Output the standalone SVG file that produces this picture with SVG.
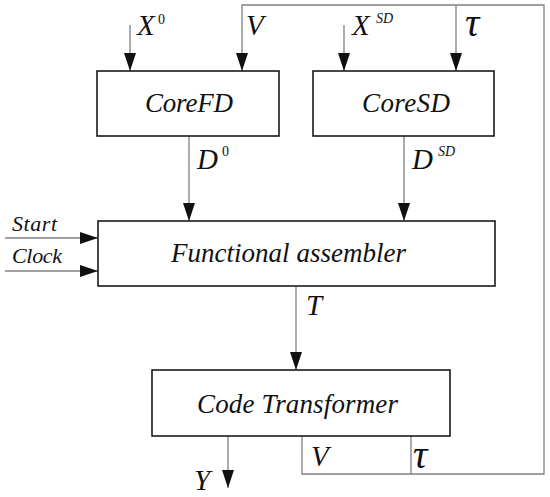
<svg xmlns="http://www.w3.org/2000/svg" width="550" height="497" viewBox="0 0 550 497">
<style>
.box{fill:#fff;stroke:#1a1a1a;stroke-width:1.6}
.ln{fill:none;stroke:#808080;stroke-width:1.3}
.t{font-family:"Liberation Serif","Times New Roman",serif;font-style:italic;fill:#111}
.bt{font-size:27px}
.m{font-size:29px}
.s{font-size:14px}
.sm{font-size:22px}
.tau{font-size:40px}
</style>
<defs>
<marker id="ah" markerUnits="userSpaceOnUse" markerWidth="18" markerHeight="12" viewBox="0 0 18 12" refX="18" refY="6" orient="auto">
<path d="M0,0 L18,6 L0,12 Z" fill="#111"/>
</marker>
</defs>
<g id="connectors">
<line class="ln" x1="130" y1="25" x2="130" y2="71" marker-end="url(#ah)"/>
<polyline class="ln" points="302,436 302,474 544,474 544,5 242,5 242,71" marker-end="url(#ah)"/>
<line class="ln" x1="456" y1="5" x2="456" y2="71" marker-end="url(#ah)"/>
<line class="ln" x1="411" y1="436" x2="411" y2="474"/>
<line class="ln" x1="344" y1="25" x2="344" y2="71" marker-end="url(#ah)"/>
<line class="ln" x1="189" y1="136" x2="189" y2="221" marker-end="url(#ah)"/>
<line class="ln" x1="404" y1="136" x2="404" y2="221" marker-end="url(#ah)"/>
<line class="ln" x1="5" y1="238" x2="98" y2="238" marker-end="url(#ah)"/>
<line class="ln" x1="5" y1="271" x2="98" y2="271" marker-end="url(#ah)"/>
<line class="ln" x1="296" y1="287" x2="296" y2="370" marker-end="url(#ah)"/>
<line class="ln" x1="228" y1="436" x2="228" y2="488" marker-end="url(#ah)"/>
</g>
<g id="labels">
<text class="t m" x="137" y="35">X</text><text class="t s" x="158" y="24" style="font-style:normal">0</text>
<text class="t m" x="246" y="35">V</text>
<text class="t m" x="352" y="35">X</text><text class="t s" x="376" y="23">SD</text>
<text class="t tau" x="465" y="36">τ</text>
<text class="t m" x="197" y="169">D</text><text class="t s" x="222" y="156" style="font-style:normal">0</text>
<text class="t m" x="412" y="169">D</text><text class="t s" x="438" y="156">SD</text>
<text class="t m" x="306" y="315">T</text>
<text class="t sm" x="12" y="231" textLength="45">Start</text>
<text class="t sm" x="12" y="263" textLength="50">Clock</text>
<text class="t m" x="194" y="490">Y</text>
<text class="t m" x="311" y="466">V</text>
<text class="t tau" x="413" y="468">τ</text>
</g>
<g id="coreFD">
<rect class="box" x="97" y="71" width="182" height="65"/>
<text class="t bt" x="145" y="112" textLength="88">CoreFD</text>
</g>
<g id="coreSD">
<rect class="box" x="313" y="71" width="181" height="65"/>
<text class="t bt" x="362" y="112" textLength="88">CoreSD</text>
</g>
<g id="functionalAssembler">
<rect class="box" x="98" y="221" width="397" height="65"/>
<text class="t bt" x="171" y="262" textLength="235">Functional assembler</text>
</g>
<g id="codeTransformer">
<rect class="box" x="152" y="370" width="298" height="66"/>
<text class="t bt" x="197" y="413" textLength="201">Code Transformer</text>
</g>
</svg>
